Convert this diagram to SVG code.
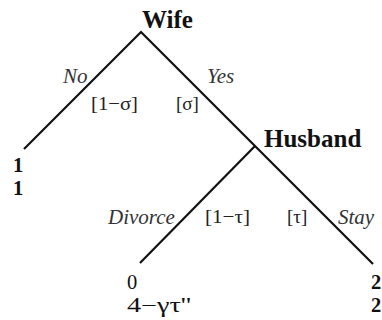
<svg xmlns="http://www.w3.org/2000/svg" width="382" height="320" viewBox="0 0 382 320">
<style>
.e{stroke:#111;stroke-width:2.2;fill:none;stroke-linecap:butt}
.pl{font-family:"Liberation Serif","Times New Roman",serif;font-weight:bold;font-size:25px;fill:#111}
.lb{font-family:"Liberation Serif","Times New Roman",serif;font-style:italic;font-size:21px;fill:#333}
.pr{font-family:"Liberation Serif","Times New Roman",serif;font-size:19px;fill:#222}
.pay{font-family:"Liberation Serif","Times New Roman",serif;font-size:20.5px;fill:#111}
.payb{font-family:"Liberation Serif","Times New Roman",serif;font-weight:bold;font-size:20.5px;fill:#111}
</style>
<rect width="382" height="320" fill="#fff"/>
<g id="connectors">
<path class="e" d="M24,149 L141,32 L373,264"/>
<path class="e" d="M255,146 L140,263"/>
</g>
<g id="wife"><text class="pl" x="142" y="28">Wife</text></g>
<g id="husband"><text class="pl" x="264" y="147">Husband</text></g>
<g id="labels">
<text class="lb" x="63" y="83">No</text>
<text class="lb" x="207" y="83">Yes</text>
<text class="pr" x="91" y="110" textLength="47" lengthAdjust="spacingAndGlyphs">[1−σ]</text>
<text class="pr" x="176" y="110">[σ]</text>
<text class="lb" x="108" y="224">Divorce</text>
<text class="pr" x="205" y="223" textLength="45" lengthAdjust="spacingAndGlyphs">[1−τ]</text>
<text class="pr" x="287" y="223">[τ]</text>
<text class="lb" x="338" y="224">Stay</text>
</g>
<g id="leaf-no"><text class="payb" x="13" y="172">1</text><text class="payb" x="13" y="195">1</text></g>
<g id="leaf-divorce"><text class="pay" x="127" y="289">0</text><text class="pay" x="127" y="312" textLength="64" lengthAdjust="spacingAndGlyphs">4−γτ''</text></g>
<g id="leaf-stay"><text class="payb" x="371" y="289">2</text><text class="payb" x="371" y="312">2</text></g>
</svg>
